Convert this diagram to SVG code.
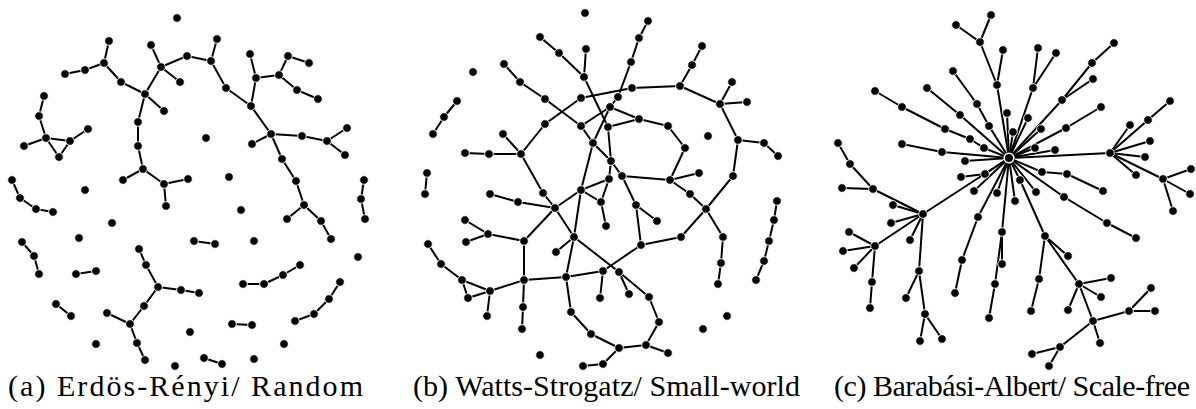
<svg xmlns="http://www.w3.org/2000/svg" width="1196" height="409" viewBox="0 0 1196 409">
<style>
.e path{fill:none;stroke:#000;stroke-width:2;stroke-linejoin:round;stroke-linecap:round}
.n circle{fill:#000;stroke:#fff;stroke-width:0.9}
.cap{font-family:"Liberation Serif","Times New Roman",serif;font-size:30px;fill:#000}
</style>
<rect width="1196" height="409" fill="#fff"/>
<g id="connectors" class="e">
<g id="edges-a">
<path d="M109 41L104 63L85 70L65 74"/>
<path d="M104 63L121 82L145 94L161 67L151 45"/>
<path d="M161 67L187 56L211 61L217 39"/>
<path d="M161 67L180 82"/>
<path d="M145 94L164 111"/>
<path d="M145 94L138 122L138 146L143 169L123 180"/>
<path d="M143 169L164 184L188 179"/>
<path d="M164 184L166 206"/>
<path d="M211 61L226 88L251 106L256 78L250 54"/>
<path d="M256 78L279 75L288 56L309 63"/>
<path d="M279 75L297 90L318 99"/>
<path d="M251 106L271 134L252 144"/>
<path d="M271 134L302 136L327 141L347 128"/>
<path d="M327 141L345 155"/>
<path d="M271 134L282 159L296 181L304 205L287 219"/>
<path d="M304 205L321 221L331 239"/>
<path d="M44 96L39 116L46 138L24 146"/>
<path d="M46 138L70 141L88 129"/>
<path d="M46 138L59 157L70 141"/>
<path d="M12 180L20 198L36 209L53 212"/>
<path d="M22 242L34 256L39 274"/>
<path d="M76 274L96 271"/>
<path d="M56 304L71 316"/>
<path d="M194 241L215 244"/>
<path d="M232 324L252 325"/>
<path d="M204 358L222 364"/>
<path d="M364 180L361 199L365 219"/>
<path d="M139 249L146 265L158 287L181 290L199 293"/>
<path d="M158 287L144 306L130 324L107 313"/>
<path d="M130 324L137 343L145 360"/>
<path d="M300 265L283 275L264 284L243 284"/>
<path d="M340 282L329 299L314 314L295 321"/>
</g>
<g id="edges-b">
<path d="M457 101L444 117L433 134"/>
<path d="M427 173L425 194"/>
<path d="M540 37L559 53L584 77L586 49"/>
<path d="M584 77L608 127"/>
<path d="M504 64L520 82L545 99L581 126L610 107L618 97L631 62L639 38L648 21"/>
<path d="M465 153L489 154L521 154L545 124L581 98L632 88L680 86"/>
<path d="M503 134L521 154"/>
<path d="M610 107L639 119L668 126L685 148L670 180"/>
<path d="M608 127L639 119"/>
<path d="M610 107L593 143"/>
<path d="M581 126L593 143L611 161L609 179"/>
<path d="M608 127L611 161L622 176L670 180L699 173"/>
<path d="M593 143L581 190L609 179L601 202L606 226"/>
<path d="M581 190L601 202"/>
<path d="M622 176L636 205L657 221"/>
<path d="M636 205L641 245L603 271"/>
<path d="M641 245L681 237L706 209"/>
<path d="M670 180L690 194L706 209L733 176L738 140L720 104L680 86L692 65L702 46"/>
<path d="M720 104L732 82"/>
<path d="M720 104L747 102"/>
<path d="M738 140L764 143L778 156"/>
<path d="M706 209L723 237L721 263L718 284"/>
<path d="M777 201L774 220L769 241L764 261L756 280"/>
<path d="M521 154L543 193L555 208L581 190"/>
<path d="M490 194L518 202L555 208"/>
<path d="M555 208L524 241"/>
<path d="M555 208L574 237L581 190"/>
<path d="M574 237L556 252"/>
<path d="M574 237L566 277"/>
<path d="M574 237L619 272"/>
<path d="M465 220L488 234L466 242"/>
<path d="M488 234L524 241L524 280L523 307L522 329"/>
<path d="M524 280L566 277L603 271L600 298"/>
<path d="M566 277L571 312L591 334L619 348"/>
<path d="M428 244L441 264L462 280L490 291L524 280"/>
<path d="M462 280L468 298L490 291L487 316"/>
<path d="M619 272L629 294"/>
<path d="M619 272L649 297L659 322L646 345L668 353"/>
<path d="M646 345L619 348L603 364L583 366"/>
</g>
<g id="edges-c">
<path d="M991 15L980 42L997 85L1009 158"/>
<path d="M956 25L980 42"/>
<path d="M1003 50L997 85"/>
<path d="M1038 48L1033 88L1009 158"/>
<path d="M1056 53L1033 88"/>
<path d="M953 71L977 104L989 126L1009 158"/>
<path d="M875 91L902 107L945 129L970 139L984 148L1009 158"/>
<path d="M927 88L960 115L1009 158"/>
<path d="M902 144L942 152L1009 158"/>
<path d="M1007 113L1009 158"/>
<path d="M1013 132L1009 158"/>
<path d="M1028 118L1009 158"/>
<path d="M1041 129L1009 158"/>
<path d="M1009 158L1062 100L1092 63L1114 43"/>
<path d="M1062 100L1093 79"/>
<path d="M1009 158L1066 128L1101 107"/>
<path d="M1009 158L1035 148"/>
<path d="M1009 158L1055 150"/>
<path d="M1009 158L1110 153L1130 125"/>
<path d="M1110 153L1148 120L1170 101"/>
<path d="M1110 153L1150 141"/>
<path d="M1110 153L1145 157"/>
<path d="M1110 153L1136 175"/>
<path d="M1110 153L1163 179L1191 169"/>
<path d="M1163 179L1190 194"/>
<path d="M1163 179L1173 211"/>
<path d="M1009 158L1042 172L1067 174L1103 191"/>
<path d="M1009 158L1064 197L1107 223L1136 238"/>
<path d="M1009 158L1036 192"/>
<path d="M1009 158L1020 180L1045 236L1039 279L1031 311"/>
<path d="M1045 236L1068 256"/>
<path d="M1045 236L1079 284L1111 278"/>
<path d="M1079 284L1101 297"/>
<path d="M1079 284L1093 321L1129 311L1151 288"/>
<path d="M1129 311L1155 311"/>
<path d="M1093 321L1100 343"/>
<path d="M1079 284L1068 310"/>
<path d="M1093 321L1060 347L1032 354"/>
<path d="M1060 347L1049 366"/>
<path d="M1009 158L1015 201"/>
<path d="M1009 158L997 193"/>
<path d="M1009 158L1002 232L1002 264"/>
<path d="M1002 232L995 284L989 318"/>
<path d="M1009 158L978 217L962 260L955 293"/>
<path d="M1009 158L974 191"/>
<path d="M1009 158L985 174L961 177"/>
<path d="M1009 158L965 161"/>
<path d="M1009 158L923 214L873 189L850 164L838 143"/>
<path d="M842 188L873 189"/>
<path d="M893 205L923 214"/>
<path d="M891 223L923 214"/>
<path d="M910 240L923 214"/>
<path d="M923 214L875 246L872 282L870 308"/>
<path d="M849 232L875 246"/>
<path d="M843 251L875 246"/>
<path d="M854 268L875 246"/>
<path d="M923 214L919 271L906 298"/>
<path d="M919 271L925 314L920 341"/>
<path d="M925 314L942 339"/>
</g>
</g>
<g id="nodes" class="n">
<g id="nodes-a">
<g id="a1"><circle cx="109" cy="41" r="4.3"/></g>
<g id="a2"><circle cx="104" cy="63" r="4.3"/></g>
<g id="a3"><circle cx="85" cy="70" r="4.3"/></g>
<g id="a4"><circle cx="65" cy="74" r="4.3"/></g>
<g id="a5"><circle cx="121" cy="82" r="4.3"/></g>
<g id="a6"><circle cx="145" cy="94" r="4.3"/></g>
<g id="a7"><circle cx="161" cy="67" r="4.3"/></g>
<g id="a8"><circle cx="151" cy="45" r="4.3"/></g>
<g id="a9"><circle cx="187" cy="56" r="4.3"/></g>
<g id="a10"><circle cx="180" cy="82" r="4.3"/></g>
<g id="a11"><circle cx="164" cy="111" r="4.3"/></g>
<g id="a12"><circle cx="138" cy="122" r="4.3"/></g>
<g id="a13"><circle cx="138" cy="146" r="4.3"/></g>
<g id="a14"><circle cx="143" cy="169" r="4.3"/></g>
<g id="a15"><circle cx="123" cy="180" r="4.3"/></g>
<g id="a16"><circle cx="164" cy="184" r="4.3"/></g>
<g id="a17"><circle cx="188" cy="179" r="4.3"/></g>
<g id="a18"><circle cx="166" cy="206" r="4.3"/></g>
<g id="a19"><circle cx="217" cy="39" r="4.3"/></g>
<g id="a20"><circle cx="211" cy="61" r="4.3"/></g>
<g id="a21"><circle cx="226" cy="88" r="4.3"/></g>
<g id="a22"><circle cx="251" cy="106" r="4.3"/></g>
<g id="a23"><circle cx="256" cy="78" r="4.3"/></g>
<g id="a24"><circle cx="250" cy="54" r="4.3"/></g>
<g id="a25"><circle cx="279" cy="75" r="4.3"/></g>
<g id="a26"><circle cx="288" cy="56" r="4.3"/></g>
<g id="a27"><circle cx="309" cy="63" r="4.3"/></g>
<g id="a28"><circle cx="297" cy="90" r="4.3"/></g>
<g id="a29"><circle cx="318" cy="99" r="4.3"/></g>
<g id="a30"><circle cx="271" cy="134" r="4.3"/></g>
<g id="a31"><circle cx="252" cy="144" r="4.3"/></g>
<g id="a32"><circle cx="302" cy="136" r="4.3"/></g>
<g id="a33"><circle cx="327" cy="141" r="4.3"/></g>
<g id="a34"><circle cx="347" cy="128" r="4.3"/></g>
<g id="a35"><circle cx="345" cy="155" r="4.3"/></g>
<g id="a36"><circle cx="282" cy="159" r="4.3"/></g>
<g id="a37"><circle cx="296" cy="181" r="4.3"/></g>
<g id="a38"><circle cx="304" cy="205" r="4.3"/></g>
<g id="a39"><circle cx="287" cy="219" r="4.3"/></g>
<g id="a40"><circle cx="321" cy="221" r="4.3"/></g>
<g id="a41"><circle cx="331" cy="239" r="4.3"/></g>
<g id="a42"><circle cx="44" cy="96" r="4.3"/></g>
<g id="a43"><circle cx="39" cy="116" r="4.3"/></g>
<g id="a44"><circle cx="46" cy="138" r="4.3"/></g>
<g id="a45"><circle cx="24" cy="146" r="4.3"/></g>
<g id="a46"><circle cx="70" cy="141" r="4.3"/></g>
<g id="a47"><circle cx="88" cy="129" r="4.3"/></g>
<g id="a48"><circle cx="59" cy="157" r="4.3"/></g>
<g id="a49"><circle cx="12" cy="180" r="4.3"/></g>
<g id="a50"><circle cx="20" cy="198" r="4.3"/></g>
<g id="a51"><circle cx="36" cy="209" r="4.3"/></g>
<g id="a52"><circle cx="53" cy="212" r="4.3"/></g>
<g id="a53"><circle cx="177" cy="18" r="4.3"/></g>
<g id="a54"><circle cx="85" cy="190" r="4.3"/></g>
<g id="a55"><circle cx="112" cy="223" r="4.3"/></g>
<g id="a56"><circle cx="79" cy="238" r="4.3"/></g>
<g id="a57"><circle cx="206" cy="138" r="4.3"/></g>
<g id="a58"><circle cx="229" cy="177" r="4.3"/></g>
<g id="a59"><circle cx="241" cy="210" r="4.3"/></g>
<g id="a60"><circle cx="254" cy="241" r="4.3"/></g>
<g id="a61"><circle cx="358" cy="257" r="4.3"/></g>
<g id="a62"><circle cx="96" cy="344" r="4.3"/></g>
<g id="a63"><circle cx="190" cy="332" r="4.3"/></g>
<g id="a64"><circle cx="175" cy="366" r="4.3"/></g>
<g id="a65"><circle cx="284" cy="344" r="4.3"/></g>
<g id="a66"><circle cx="254" cy="359" r="4.3"/></g>
<g id="a67"><circle cx="22" cy="242" r="4.3"/></g>
<g id="a68"><circle cx="34" cy="256" r="4.3"/></g>
<g id="a69"><circle cx="39" cy="274" r="4.3"/></g>
<g id="a70"><circle cx="76" cy="274" r="4.3"/></g>
<g id="a71"><circle cx="96" cy="271" r="4.3"/></g>
<g id="a72"><circle cx="56" cy="304" r="4.3"/></g>
<g id="a73"><circle cx="71" cy="316" r="4.3"/></g>
<g id="a74"><circle cx="194" cy="241" r="4.3"/></g>
<g id="a75"><circle cx="215" cy="244" r="4.3"/></g>
<g id="a76"><circle cx="232" cy="324" r="4.3"/></g>
<g id="a77"><circle cx="252" cy="325" r="4.3"/></g>
<g id="a78"><circle cx="204" cy="358" r="4.3"/></g>
<g id="a79"><circle cx="222" cy="364" r="4.3"/></g>
<g id="a80"><circle cx="364" cy="180" r="4.3"/></g>
<g id="a81"><circle cx="361" cy="199" r="4.3"/></g>
<g id="a82"><circle cx="365" cy="219" r="4.3"/></g>
<g id="a83"><circle cx="139" cy="249" r="4.3"/></g>
<g id="a84"><circle cx="146" cy="265" r="4.3"/></g>
<g id="a85"><circle cx="158" cy="287" r="4.3"/></g>
<g id="a86"><circle cx="181" cy="290" r="4.3"/></g>
<g id="a87"><circle cx="199" cy="293" r="4.3"/></g>
<g id="a88"><circle cx="144" cy="306" r="4.3"/></g>
<g id="a89"><circle cx="130" cy="324" r="4.3"/></g>
<g id="a90"><circle cx="107" cy="313" r="4.3"/></g>
<g id="a91"><circle cx="137" cy="343" r="4.3"/></g>
<g id="a92"><circle cx="145" cy="360" r="4.3"/></g>
<g id="a93"><circle cx="300" cy="265" r="4.3"/></g>
<g id="a94"><circle cx="283" cy="275" r="4.3"/></g>
<g id="a95"><circle cx="264" cy="284" r="4.3"/></g>
<g id="a96"><circle cx="243" cy="284" r="4.3"/></g>
<g id="a97"><circle cx="340" cy="282" r="4.3"/></g>
<g id="a98"><circle cx="329" cy="299" r="4.3"/></g>
<g id="a99"><circle cx="314" cy="314" r="4.3"/></g>
<g id="a100"><circle cx="295" cy="321" r="4.3"/></g>
</g>
<g id="nodes-b">
<g id="b1"><circle cx="585" cy="13" r="4.3"/></g>
<g id="b2"><circle cx="473" cy="72" r="4.3"/></g>
<g id="b3"><circle cx="540" cy="355" r="4.3"/></g>
<g id="b4"><circle cx="727" cy="316" r="4.3"/></g>
<g id="b5"><circle cx="703" cy="329" r="4.3"/></g>
<g id="b6"><circle cx="708" cy="136" r="4.3"/></g>
<g id="b7"><circle cx="457" cy="101" r="4.3"/></g>
<g id="b8"><circle cx="444" cy="117" r="4.3"/></g>
<g id="b9"><circle cx="433" cy="134" r="4.3"/></g>
<g id="b10"><circle cx="427" cy="173" r="4.3"/></g>
<g id="b11"><circle cx="425" cy="194" r="4.3"/></g>
<g id="b12"><circle cx="540" cy="37" r="4.3"/></g>
<g id="b13"><circle cx="559" cy="53" r="4.3"/></g>
<g id="b14"><circle cx="584" cy="77" r="4.3"/></g>
<g id="b15"><circle cx="586" cy="49" r="4.3"/></g>
<g id="b16"><circle cx="608" cy="127" r="4.3"/></g>
<g id="b17"><circle cx="504" cy="64" r="4.3"/></g>
<g id="b18"><circle cx="520" cy="82" r="4.3"/></g>
<g id="b19"><circle cx="545" cy="99" r="4.3"/></g>
<g id="b20"><circle cx="581" cy="126" r="4.3"/></g>
<g id="b21"><circle cx="465" cy="153" r="4.3"/></g>
<g id="b22"><circle cx="489" cy="154" r="4.3"/></g>
<g id="b23"><circle cx="521" cy="154" r="4.3"/></g>
<g id="b24"><circle cx="503" cy="134" r="4.3"/></g>
<g id="b25"><circle cx="545" cy="124" r="4.3"/></g>
<g id="b26"><circle cx="581" cy="98" r="4.3"/></g>
<g id="b27"><circle cx="632" cy="88" r="4.3"/></g>
<g id="b28"><circle cx="610" cy="107" r="4.3"/></g>
<g id="b29"><circle cx="618" cy="97" r="4.3"/></g>
<g id="b30"><circle cx="631" cy="62" r="4.3"/></g>
<g id="b31"><circle cx="639" cy="38" r="4.3"/></g>
<g id="b32"><circle cx="648" cy="21" r="4.3"/></g>
<g id="b33"><circle cx="639" cy="119" r="4.3"/></g>
<g id="b34"><circle cx="593" cy="143" r="4.3"/></g>
<g id="b35"><circle cx="611" cy="161" r="4.3"/></g>
<g id="b36"><circle cx="609" cy="179" r="4.3"/></g>
<g id="b37"><circle cx="581" cy="190" r="4.3"/></g>
<g id="b38"><circle cx="622" cy="176" r="4.3"/></g>
<g id="b39"><circle cx="670" cy="180" r="4.3"/></g>
<g id="b40"><circle cx="636" cy="205" r="4.3"/></g>
<g id="b41"><circle cx="668" cy="126" r="4.3"/></g>
<g id="b42"><circle cx="685" cy="148" r="4.3"/></g>
<g id="b43"><circle cx="699" cy="173" r="4.3"/></g>
<g id="b44"><circle cx="690" cy="194" r="4.3"/></g>
<g id="b45"><circle cx="706" cy="209" r="4.3"/></g>
<g id="b46"><circle cx="680" cy="86" r="4.3"/></g>
<g id="b47"><circle cx="692" cy="65" r="4.3"/></g>
<g id="b48"><circle cx="702" cy="46" r="4.3"/></g>
<g id="b49"><circle cx="720" cy="104" r="4.3"/></g>
<g id="b50"><circle cx="732" cy="82" r="4.3"/></g>
<g id="b51"><circle cx="747" cy="102" r="4.3"/></g>
<g id="b52"><circle cx="738" cy="140" r="4.3"/></g>
<g id="b53"><circle cx="764" cy="143" r="4.3"/></g>
<g id="b54"><circle cx="778" cy="156" r="4.3"/></g>
<g id="b55"><circle cx="733" cy="176" r="4.3"/></g>
<g id="b56"><circle cx="723" cy="237" r="4.3"/></g>
<g id="b57"><circle cx="721" cy="263" r="4.3"/></g>
<g id="b58"><circle cx="718" cy="284" r="4.3"/></g>
<g id="b59"><circle cx="681" cy="237" r="4.3"/></g>
<g id="b60"><circle cx="641" cy="245" r="4.3"/></g>
<g id="b61"><circle cx="657" cy="221" r="4.3"/></g>
<g id="b62"><circle cx="603" cy="271" r="4.3"/></g>
<g id="b63"><circle cx="777" cy="201" r="4.3"/></g>
<g id="b64"><circle cx="774" cy="220" r="4.3"/></g>
<g id="b65"><circle cx="769" cy="241" r="4.3"/></g>
<g id="b66"><circle cx="764" cy="261" r="4.3"/></g>
<g id="b67"><circle cx="756" cy="280" r="4.3"/></g>
<g id="b68"><circle cx="601" cy="202" r="4.3"/></g>
<g id="b69"><circle cx="606" cy="226" r="4.3"/></g>
<g id="b70"><circle cx="574" cy="237" r="4.3"/></g>
<g id="b71"><circle cx="555" cy="208" r="4.3"/></g>
<g id="b72"><circle cx="543" cy="193" r="4.3"/></g>
<g id="b73"><circle cx="490" cy="194" r="4.3"/></g>
<g id="b74"><circle cx="518" cy="202" r="4.3"/></g>
<g id="b75"><circle cx="524" cy="241" r="4.3"/></g>
<g id="b76"><circle cx="556" cy="252" r="4.3"/></g>
<g id="b77"><circle cx="566" cy="277" r="4.3"/></g>
<g id="b78"><circle cx="619" cy="272" r="4.3"/></g>
<g id="b79"><circle cx="465" cy="220" r="4.3"/></g>
<g id="b80"><circle cx="466" cy="242" r="4.3"/></g>
<g id="b81"><circle cx="488" cy="234" r="4.3"/></g>
<g id="b82"><circle cx="524" cy="280" r="4.3"/></g>
<g id="b83"><circle cx="523" cy="307" r="4.3"/></g>
<g id="b84"><circle cx="522" cy="329" r="4.3"/></g>
<g id="b85"><circle cx="600" cy="298" r="4.3"/></g>
<g id="b86"><circle cx="571" cy="312" r="4.3"/></g>
<g id="b87"><circle cx="591" cy="334" r="4.3"/></g>
<g id="b88"><circle cx="619" cy="348" r="4.3"/></g>
<g id="b89"><circle cx="428" cy="244" r="4.3"/></g>
<g id="b90"><circle cx="441" cy="264" r="4.3"/></g>
<g id="b91"><circle cx="462" cy="280" r="4.3"/></g>
<g id="b92"><circle cx="490" cy="291" r="4.3"/></g>
<g id="b93"><circle cx="468" cy="298" r="4.3"/></g>
<g id="b94"><circle cx="487" cy="316" r="4.3"/></g>
<g id="b95"><circle cx="629" cy="294" r="4.3"/></g>
<g id="b96"><circle cx="649" cy="297" r="4.3"/></g>
<g id="b97"><circle cx="659" cy="322" r="4.3"/></g>
<g id="b98"><circle cx="646" cy="345" r="4.3"/></g>
<g id="b99"><circle cx="668" cy="353" r="4.3"/></g>
<g id="b100"><circle cx="603" cy="364" r="4.3"/></g>
<g id="b101"><circle cx="583" cy="366" r="4.3"/></g>
</g>
<g id="nodes-c">
<g id="c1"><circle cx="991" cy="15" r="4.3"/></g>
<g id="c2"><circle cx="980" cy="42" r="4.3"/></g>
<g id="c3"><circle cx="956" cy="25" r="4.3"/></g>
<g id="c4"><circle cx="997" cy="85" r="4.3"/></g>
<g id="c5"><circle cx="1003" cy="50" r="4.3"/></g>
<g id="c6"><circle cx="1038" cy="48" r="4.3"/></g>
<g id="c7"><circle cx="1056" cy="53" r="4.3"/></g>
<g id="c8"><circle cx="1033" cy="88" r="4.3"/></g>
<g id="c9"><circle cx="953" cy="71" r="4.3"/></g>
<g id="c10"><circle cx="977" cy="104" r="4.3"/></g>
<g id="c11"><circle cx="989" cy="126" r="4.3"/></g>
<g id="c12"><circle cx="875" cy="91" r="4.3"/></g>
<g id="c13"><circle cx="902" cy="107" r="4.3"/></g>
<g id="c14"><circle cx="945" cy="129" r="4.3"/></g>
<g id="c15"><circle cx="970" cy="139" r="4.3"/></g>
<g id="c16"><circle cx="984" cy="148" r="4.3"/></g>
<g id="c17"><circle cx="927" cy="88" r="4.3"/></g>
<g id="c18"><circle cx="960" cy="115" r="4.3"/></g>
<g id="c19"><circle cx="902" cy="144" r="4.3"/></g>
<g id="c20"><circle cx="942" cy="152" r="4.3"/></g>
<g id="c21"><circle cx="1007" cy="113" r="4.3"/></g>
<g id="c22"><circle cx="1013" cy="132" r="4.3"/></g>
<g id="c23"><circle cx="1028" cy="118" r="4.3"/></g>
<g id="c24"><circle cx="1041" cy="129" r="4.3"/></g>
<g id="c25"><circle cx="1062" cy="100" r="4.3"/></g>
<g id="c26"><circle cx="1092" cy="63" r="4.3"/></g>
<g id="c27"><circle cx="1114" cy="43" r="4.3"/></g>
<g id="c28"><circle cx="1093" cy="79" r="4.3"/></g>
<g id="c29"><circle cx="1066" cy="128" r="4.3"/></g>
<g id="c30"><circle cx="1101" cy="107" r="4.3"/></g>
<g id="c31"><circle cx="1035" cy="148" r="4.3"/></g>
<g id="c32"><circle cx="1055" cy="150" r="4.3"/></g>
<g id="c33"><circle cx="1110" cy="153" r="4.3"/></g>
<g id="c34"><circle cx="1130" cy="125" r="4.3"/></g>
<g id="c35"><circle cx="1148" cy="120" r="4.3"/></g>
<g id="c36"><circle cx="1170" cy="101" r="4.3"/></g>
<g id="c37"><circle cx="1150" cy="141" r="4.3"/></g>
<g id="c38"><circle cx="1145" cy="157" r="4.3"/></g>
<g id="c39"><circle cx="1136" cy="175" r="4.3"/></g>
<g id="c40"><circle cx="1163" cy="179" r="4.3"/></g>
<g id="c41"><circle cx="1191" cy="169" r="4.3"/></g>
<g id="c42"><circle cx="1190" cy="194" r="4.3"/></g>
<g id="c43"><circle cx="1173" cy="211" r="4.3"/></g>
<g id="c44"><circle cx="1042" cy="172" r="4.3"/></g>
<g id="c45"><circle cx="1067" cy="174" r="4.3"/></g>
<g id="c46"><circle cx="1103" cy="191" r="4.3"/></g>
<g id="c47"><circle cx="1064" cy="197" r="4.3"/></g>
<g id="c48"><circle cx="1107" cy="223" r="4.3"/></g>
<g id="c49"><circle cx="1136" cy="238" r="4.3"/></g>
<g id="c50"><circle cx="1036" cy="192" r="4.3"/></g>
<g id="c51"><circle cx="1020" cy="180" r="4.3"/></g>
<g id="c52"><circle cx="1045" cy="236" r="4.3"/></g>
<g id="c53"><circle cx="1039" cy="279" r="4.3"/></g>
<g id="c54"><circle cx="1031" cy="311" r="4.3"/></g>
<g id="c55"><circle cx="1068" cy="256" r="4.3"/></g>
<g id="c56"><circle cx="1079" cy="284" r="4.3"/></g>
<g id="c57"><circle cx="1111" cy="278" r="4.3"/></g>
<g id="c58"><circle cx="1101" cy="297" r="4.3"/></g>
<g id="c59"><circle cx="1093" cy="321" r="4.3"/></g>
<g id="c60"><circle cx="1068" cy="310" r="4.3"/></g>
<g id="c61"><circle cx="1129" cy="311" r="4.3"/></g>
<g id="c62"><circle cx="1151" cy="288" r="4.3"/></g>
<g id="c63"><circle cx="1155" cy="311" r="4.3"/></g>
<g id="c64"><circle cx="1100" cy="343" r="4.3"/></g>
<g id="c65"><circle cx="1060" cy="347" r="4.3"/></g>
<g id="c66"><circle cx="1032" cy="354" r="4.3"/></g>
<g id="c67"><circle cx="1049" cy="366" r="4.3"/></g>
<g id="c68"><circle cx="1015" cy="201" r="4.3"/></g>
<g id="c69"><circle cx="997" cy="193" r="4.3"/></g>
<g id="c70"><circle cx="1002" cy="232" r="4.3"/></g>
<g id="c71"><circle cx="1002" cy="264" r="4.3"/></g>
<g id="c72"><circle cx="995" cy="284" r="4.3"/></g>
<g id="c73"><circle cx="989" cy="318" r="4.3"/></g>
<g id="c74"><circle cx="978" cy="217" r="4.3"/></g>
<g id="c75"><circle cx="962" cy="260" r="4.3"/></g>
<g id="c76"><circle cx="955" cy="293" r="4.3"/></g>
<g id="c77"><circle cx="974" cy="191" r="4.3"/></g>
<g id="c78"><circle cx="985" cy="174" r="4.3"/></g>
<g id="c79"><circle cx="961" cy="177" r="4.3"/></g>
<g id="c80"><circle cx="965" cy="161" r="4.3"/></g>
<g id="c81"><circle cx="923" cy="214" r="4.3"/></g>
<g id="c82"><circle cx="873" cy="189" r="4.3"/></g>
<g id="c83"><circle cx="850" cy="164" r="4.3"/></g>
<g id="c84"><circle cx="838" cy="143" r="4.3"/></g>
<g id="c85"><circle cx="842" cy="188" r="4.3"/></g>
<g id="c86"><circle cx="893" cy="205" r="4.3"/></g>
<g id="c87"><circle cx="891" cy="223" r="4.3"/></g>
<g id="c88"><circle cx="910" cy="240" r="4.3"/></g>
<g id="c89"><circle cx="875" cy="246" r="4.3"/></g>
<g id="c90"><circle cx="849" cy="232" r="4.3"/></g>
<g id="c91"><circle cx="843" cy="251" r="4.3"/></g>
<g id="c92"><circle cx="854" cy="268" r="4.3"/></g>
<g id="c93"><circle cx="872" cy="282" r="4.3"/></g>
<g id="c94"><circle cx="870" cy="308" r="4.3"/></g>
<g id="c95"><circle cx="919" cy="271" r="4.3"/></g>
<g id="c96"><circle cx="906" cy="298" r="4.3"/></g>
<g id="c97"><circle cx="925" cy="314" r="4.3"/></g>
<g id="c98"><circle cx="920" cy="341" r="4.3"/></g>
<g id="c99"><circle cx="942" cy="339" r="4.3"/></g>
<g id="hub"><circle cx="1009" cy="158" r="4.8" style="stroke-width:1.6"/></g>
</g>
</g>
<g id="captions" class="cap">
<text x="8" y="396" textLength="355">(a) Erdös-Rényi/ Random</text>
<text x="413" y="396" textLength="387">(b) Watts-Strogatz/ Small-world</text>
<text x="834" y="396" textLength="356">(c) Barabási-Albert/ Scale-free</text>
</g>
</svg>
